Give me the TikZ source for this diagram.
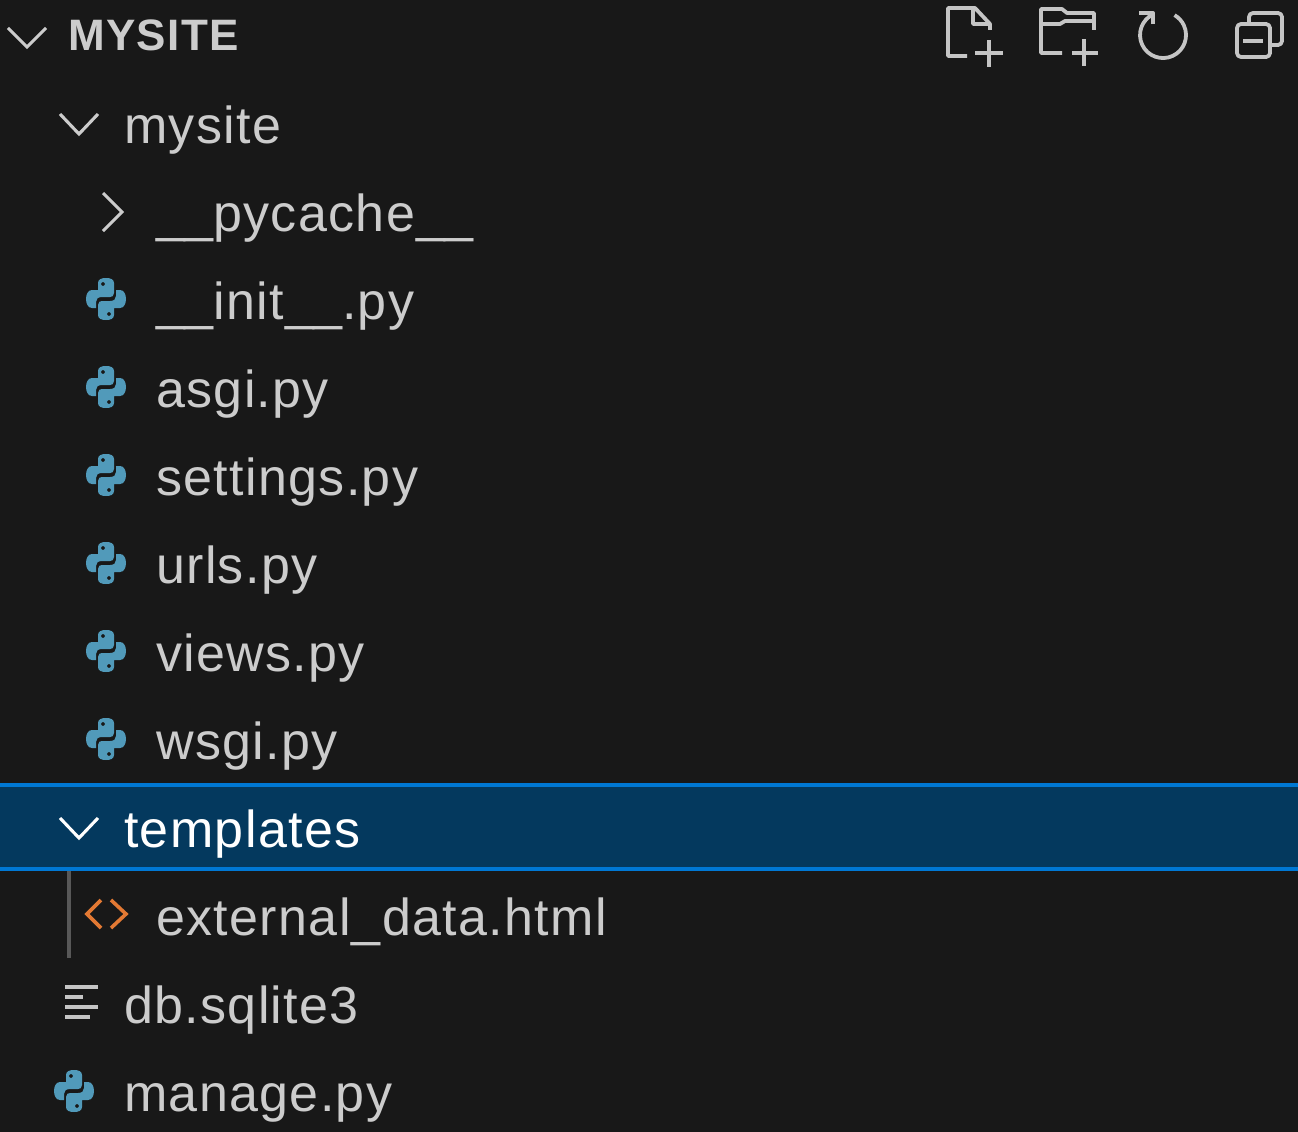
\documentclass[tikz,border=0pt]{standalone}
\usepackage{fontspec}
\usepackage{tikz}
\usepackage{xcolor}
\setmainfont{Liberation Sans}
\newfontfamily\rowfont[LetterSpace=2.6]{Liberation Sans}
\newfontfamily\rootfont[LetterSpace=3]{Liberation Sans}
\usetikzlibrary{positioning, calc}
\definecolor{cPanel}{RGB}{24,24,24}
\definecolor{cText}{RGB}{204,204,204}
\definecolor{cIcon}{RGB}{197,197,197}
\definecolor{cPython}{RGB}{81,154,186}
\definecolor{cHtml}{RGB}{227,121,51}
\definecolor{cSelect}{RGB}{4,57,94}
\definecolor{cFocus}{RGB}{0,120,212}
\definecolor{cGuide}{RGB}{88,88,88}
\newcommand{\usc}{\_\kern-0.4pt}
\tikzset{
	% tree rows
	rowlabel/.style={anchor=base west, inner sep=0pt, text=cText, font=\rowfont\fontsize{52}{60}\selectfont},
	rootlabel/.style={anchor=base west, inner sep=0pt, text=cText, font=\rootfont\fontsize{44}{50}\selectfont\bfseries},
	chevron/.style={draw=cText, line width=3.1pt, line join=miter},
	% toolbar icons
	toolicon/.style={draw=cIcon, line width=3.8pt, line join=round},
	% file icons
	pyfile/.pic={
		\fill[cPython, even odd rule] (-8,-9) -- (-8,-16) .. controls (-8,-20) and (-4,-21) .. (0,-21) .. controls (4,-21) and (8,-20) .. (8,-16) -- (8,-6) .. controls (8,-3) and (6,-2) .. (4,-2) -- (-4,-2) .. controls (-8,-2) and (-10,0) .. (-10,3) -- (-10,9) -- (-14,9) .. controls (-22,9) and (-22,-9) .. (-14,-9) -- cycle (-3,-15) circle (2);
		\fill[cPython, even odd rule] (8,9) -- (8,16) .. controls (8,20) and (4,21) .. (0,21) .. controls (-4,21) and (-8,20) .. (-8,16) -- (-8,6) .. controls (-8,3) and (-6,2) .. (-4,2) -- (4,2) .. controls (8,2) and (10,0) .. (10,-3) -- (10,-9) -- (14,-9) .. controls (22,-9) and (22,9) .. (14,9) -- cycle (3,15) circle (2);
	},
}
\begin{document}
\begin{tikzpicture}[x=1pt, y=-1pt]
	\useasboundingbox (0,0) rectangle (1298,1132);
	\fill[cPanel] (0,0) rectangle (1298,1132);
	% selected row
	\fill[cSelect] (0,785) rectangle (1298,869);
	\draw[cFocus, line width=4pt] (0,785) -- (1298,785) (0,869) -- (1298,869);
	% indent guide
	\draw[cGuide, line width=3.5pt] (69,871) -- (69,958);
	% header
	\node[rootlabel] (rootname) at (68,51) {MYSITE};
	\draw[chevron] (8,28) -- (27,47) -- (46,28);
	% new file
	\draw[toolicon] (967,56) -- (948,56) -- (948,8) -- (975,8) -- (990,24) -- (990,30) (973,8) -- (973,24) -- (990,24);
	\draw[toolicon] (975,53) -- (1003,53) (989,40) -- (989,67);
	% new folder
	\draw[toolicon] (1094,30) -- (1094,13) -- (1067,13) -- (1062,9) -- (1041,9) -- (1041,53) -- (1062,53) (1041,24) -- (1060,24) -- (1065,21) -- (1094,21);
	\draw[toolicon] (1072,53) -- (1098,53) (1084,39) -- (1084,66);
	% refresh
	\draw[toolicon] (1153.3,14.2) arc[start angle=-115, end angle=-420, radius=23];
	\draw[toolicon] (1139,13) -- (1153,13) -- (1153,24);
	% collapse
	\draw[toolicon, rounded corners=4pt] (1237,24) rectangle (1270,57);
	\draw[toolicon, rounded corners=4pt] (1249,24) -- (1249,13) -- (1282,13) -- (1282,45) -- (1270,45);
	\draw[toolicon] (1243,41) -- (1263,41);
	% folders
	\node[rowlabel] (mysite) at (124,143) {mysite};
	\draw[chevron] (60,114) -- (79,134) -- (98,114);
	\node[rowlabel] (pycache) at (156,231) {\usc\usc pycache\usc\usc};
	\draw[chevron] (103,193) -- (122,212) -- (103,231);
	% python files
	\foreach \nm/\lbl/\yy in {init/\usc\usc init\usc\usc.py/319, asgi/asgi.py/407, settings/settings.py/495, urls/urls.py/583, views/views.py/671, wsgi/wsgi.py/759}{
		\node[rowlabel] (\nm) at (156,\yy) {\lbl};
		\pic at (106,\yy-20) {pyfile};
	}
	% templates
	\node[rowlabel, text=white] (templates) at (124,847) {templates};
	\draw[chevron, draw=white] (60,818) -- (79,838) -- (98,818);
	\node[rowlabel] (extdata) at (156,935) {external\_data.html};
	\draw[cHtml, line width=3.6pt] (101,900) -- (87,914) -- (101,928) (111,900) -- (126,914) -- (111,928);
	% db
	\node[rowlabel] (dbfile) at (124,1023) {db.sqlite3};
	\draw[cIcon, line width=3.6pt] (65,987) -- (98,987) (65,997) -- (83,997) (65,1007) -- (98,1007) (65,1017) -- (90,1017);
	% manage
	\node[rowlabel] (manage) at (124,1111) {manage.py};
	\pic at (74,1091) {pyfile};
\end{tikzpicture}
\end{document}
